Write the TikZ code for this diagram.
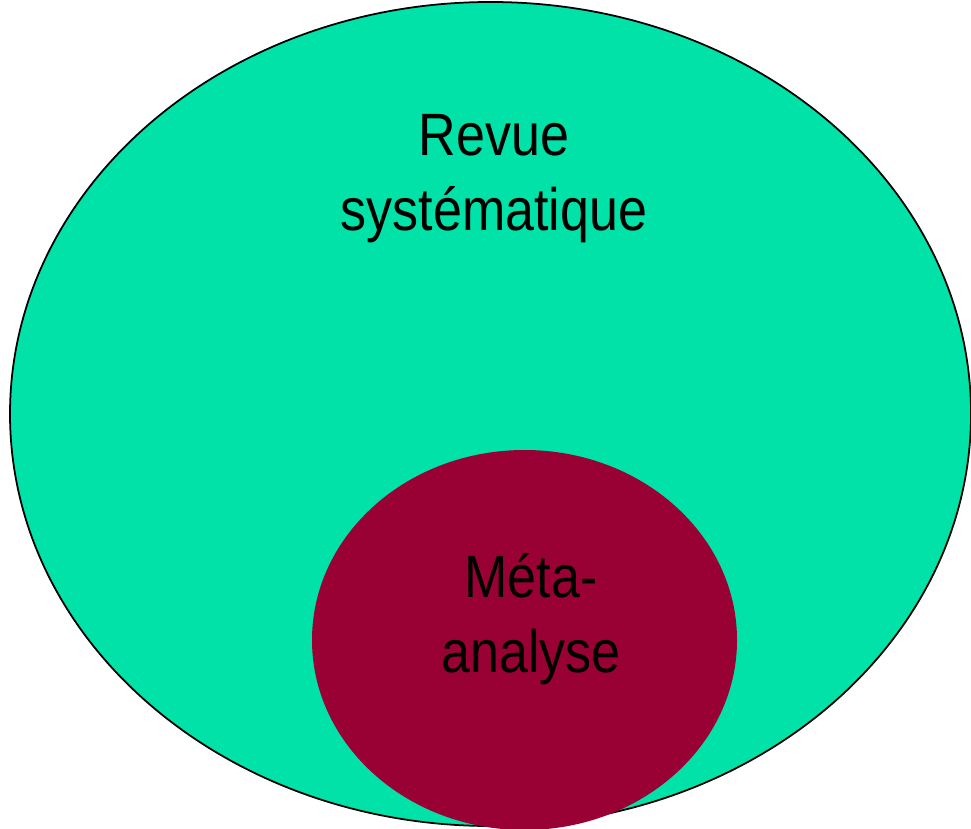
\documentclass[tikz,border=0pt]{standalone}
\usepackage{fontspec}
\setmainfont{Liberation Sans}[FakeStretch=0.87]
\definecolor{revuegreen}{HTML}{00E2A8}
\definecolor{metared}{HTML}{990033}
\tikzset{
	label text/.style={align=center, inner sep=0pt, font=\fontsize{17}{21.3}\selectfont}
}
\begin{document}
\begin{tikzpicture}[x=.01cm, y=-.01cm]
	\useasboundingbox (0,0) rectangle (971,828);
	% outer set
	\filldraw[fill=revuegreen, draw=black, line width=.5pt] (490.5,414) ellipse [x radius=480.5, y radius=412];
	\node[label text] (revue) at (494,179) {Revue\\systématique};
	% inner set
	\fill[metared] (524.5,640) ellipse [x radius=212.5, y radius=190];
	\node[label text] (meta) at (531,619) {Méta-\\analyse};
\end{tikzpicture}
\end{document}
